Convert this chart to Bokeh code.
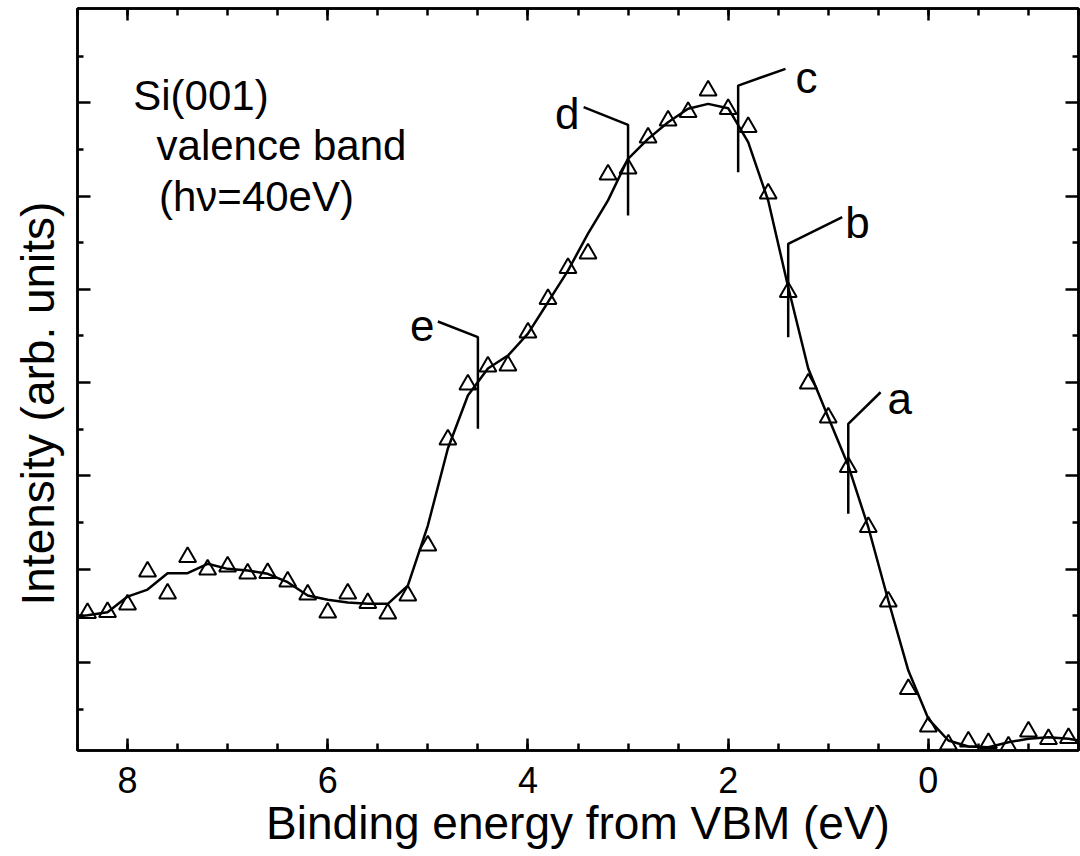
from bokeh.plotting import figure
from bokeh.models import (Range1d, LinearAxis, FixedTicker, SingleIntervalTicker,
                          CustomJSTickFormatter, Label, Title)
from bokeh.embed import file_html
from bokeh.resources import INLINE

# Si(001) valence-band photoemission spectrum, hv = 40 eV
# measured intensity (triangles), arbitrary units
energy_pts = [8.4, 8.2, 8.0, 7.8, 7.6, 7.4, 7.2, 7.0, 6.8, 6.6,
              6.4, 6.2, 6.0, 5.8, 5.6, 5.4, 5.2, 5.0, 4.8, 4.6,
              4.4, 4.2, 4.0, 3.8, 3.6, 3.4, 3.2, 3.0, 2.8, 2.6,
              2.4, 2.2, 2.0, 1.8, 1.6, 1.4, 1.2, 1.0, 0.8, 0.6,
              0.4, 0.2, 0.0, -0.2, -0.4, -0.6, -0.8, -1.0, -1.2, -1.4]
intensity_pts = [1.531, 1.541, 1.622, 1.975, 1.740, 2.131, 1.997, 2.029, 1.954, 1.959,
                 1.868, 1.729, 1.536, 1.740, 1.638, 1.525, 1.718, 2.254, 3.390, 3.980,
                 4.173, 4.183, 4.537, 4.896, 5.228, 5.384, 6.230, 6.294, 6.627, 6.809,
                 6.900, 7.131, 6.932, 6.740, 6.027, 4.971, 3.990, 3.626, 3.095, 2.452,
                 1.654, 0.716, 0.314, 0.121, 0.153, 0.137, 0.100, 0.260, 0.180, 0.191]

# smoothed spectrum (solid curve)
energy_fit = [8.5, 8.4, 8.2, 8.0, 7.8, 7.6, 7.4, 7.2, 7.0, 6.8, 6.6,
              6.4, 6.2, 6.0, 5.8, 5.6, 5.4, 5.2, 5.0, 4.8, 4.6,
              4.4, 4.2, 4.0, 3.8, 3.6, 3.4, 3.2, 3.0, 2.8, 2.6,
              2.4, 2.2, 2.0, 1.8, 1.6, 1.4, 1.2, 1.0, 0.8, 0.6,
              0.4, 0.2, 0.0, -0.2, -0.4, -0.6, -0.8, -1.0, -1.2, -1.4, -1.5]
intensity_fit = [1.493, 1.507, 1.539, 1.707, 1.782, 1.957, 1.957, 2.058, 2.004, 1.986, 1.951,
                 1.861, 1.718, 1.672, 1.643, 1.629, 1.629, 1.825, 2.468, 3.294, 3.862,
                 4.151, 4.290, 4.526, 4.862, 5.201, 5.598, 5.953, 6.399, 6.613, 6.791,
                 6.935, 6.988, 6.941, 6.577, 5.952, 5.023, 4.151, 3.629, 3.111, 2.450,
                 1.665, 0.914, 0.397, 0.164, 0.100, 0.092, 0.146, 0.182, 0.199, 0.182, 0.164]

# marked spectral features a-e
feature_names = ["a", "b", "c", "d", "e"]
feature_energy = [0.8, 1.4, 1.9, 3.0, 4.5]
feature_low = [2.594, 4.487, 6.255, 5.791, 3.505]
feature_high = [3.558, 5.488, 7.184, 6.763, 4.487]
leader_energy = [0.477, 0.86, 1.427, 3.444, 4.9]
leader_level = [3.897, 5.773, 7.363, 6.952, 4.655]
name_energy = [0.287, 0.707, 1.217, 3.607, 5.057]
name_level = [3.83, 5.716, 7.27, 6.884, 4.612]

x_title = "Binding energy from VBM (eV)"
y_title = "Intensity (arb. units)"
note_lines = ["Si(001)", "valence band", "(h\u03bd=40eV)"]
note_x = [7.267, 6.462, 6.712]
note_y = [7.077, 6.541, 5.995]

FONT = "Liberation Sans"

p = figure(width=1080, height=856,
           x_range=Range1d(8.5, -1.5), y_range=Range1d(0.057, 8.01),
           output_backend="svg", toolbar_location=None,
           min_border_left=77, min_border_right=2,
           min_border_top=8, min_border_bottom=106)
p.xgrid.visible = False
p.ygrid.visible = False
p.outline_line_color = "black"
p.outline_line_width = 2.5
p.background_fill_color = "white"
p.border_fill_color = "white"

blank = CustomJSTickFormatter(code="return ''")

x_ticker = SingleIntervalTicker(interval=2, num_minor_ticks=4)
y_ticker = FixedTicker(ticks=[1, 2, 3, 4, 5, 6, 7],
                       minor_ticks=[0.5, 1.5, 2.5, 3.5, 4.5, 5.5, 6.5, 7.5])


def style_axis(ax, major, minor):
    ax.axis_line_color = "black"
    ax.axis_line_width = 2.5
    ax.major_tick_line_width = 2.5
    ax.minor_tick_line_width = 2.5
    ax.major_tick_line_color = "black"
    ax.minor_tick_line_color = "black"
    ax.major_tick_in = major
    ax.major_tick_out = 0
    ax.minor_tick_in = minor
    ax.minor_tick_out = 0


xa = p.xaxis[0]
xa.ticker = x_ticker
style_axis(xa, 12, 7)
xa.major_label_text_font = FONT
xa.major_label_text_font_size = "36px"
xa.major_label_text_color = "black"
xa.major_label_standoff = 16
xa.axis_label = x_title
xa.axis_label_text_font = FONT
xa.axis_label_text_font_size = "46px"
xa.axis_label_text_font_style = "normal"
xa.axis_label_text_color = "black"
xa.axis_label_standoff = 1

ya = p.yaxis[0]
ya.ticker = y_ticker
ya.formatter = blank
ya.major_label_standoff = 0
style_axis(ya, 13, 6)

top = LinearAxis(ticker=x_ticker, formatter=blank, major_label_standoff=0)
style_axis(top, 12, 7)
p.add_layout(top, "above")

right = LinearAxis(ticker=y_ticker, formatter=blank, major_label_standoff=0)
style_axis(right, 13, 6)
p.add_layout(right, "right")

# vertical axis title, shifted a little below the frame centre
p.add_layout(Title(text=y_title, align="left", vertical_align="top",
                   offset=145, standoff=23,
                   text_font=FONT, text_font_size="46px",
                   text_font_style="normal", text_color="black"), "left")

# spectrum
p.line(energy_fit, intensity_fit, line_color="black", line_width=2.5)
p.scatter(energy_pts, intensity_pts, marker="triangle", size=17,
          fill_color=None, line_color="black", line_width=2)

# feature markers: vertical bar with a leader line to the letter
xs = [[e, e, le] for e, le in zip(feature_energy, leader_energy)]
ys = [[lo, hi, ll] for lo, hi, ll in zip(feature_low, feature_high, leader_level)]
p.multi_line(xs, ys, line_color="black", line_width=2.5)
p.text(name_energy, name_level, text=feature_names, text_align="center",
       text_baseline="alphabetic", text_font={"value": FONT},
       text_font_size={"value": "44px"}, text_color="black")

# sample / photon energy note
for t, nx, ny in zip(note_lines, note_x, note_y):
    p.add_layout(Label(x=nx, y=ny, text=t, text_align="center",
                       text_baseline="alphabetic", text_font=FONT,
                       text_font_size="42px", text_color="black"))

open("out.html", "w").write(file_html(p, INLINE))
